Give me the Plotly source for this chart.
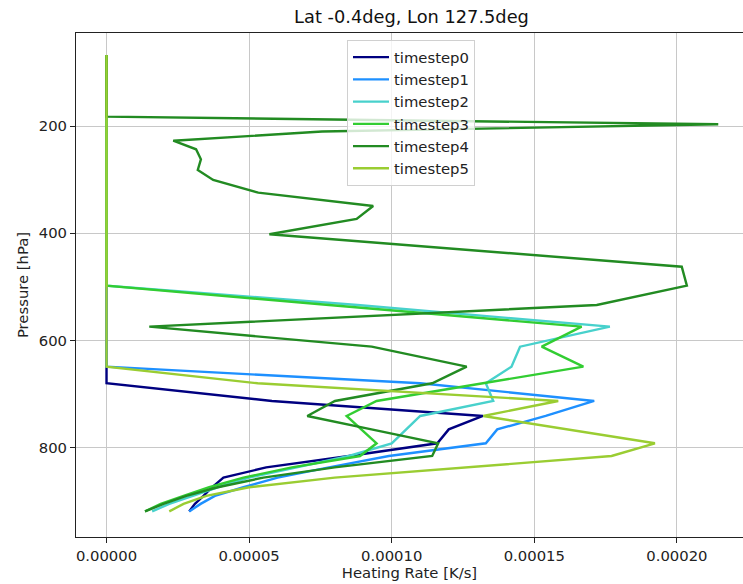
import plotly.graph_objects as go

# Pressure levels [hPa]
pressure = [67.5, 182.6, 196.8, 210.3, 227.4, 243.5, 262.1, 282.1, 300.7, 324.4,
            349.3, 373.5, 402.0, 432.0, 462.5, 497.9, 534.0, 574.4, 611.7, 649.0,
            680.0, 713.0, 741.0, 766.0, 792.0, 815.7, 837.0, 856.0, 874.0, 890.0,
            905.0, 919.0]

# Heating rate profiles, in units of 1e-5 K/s
timestep0 = [0] * 21 + [5.8, 13.2, 12.0, 11.6, 8.5, 5.6, 4.1, 3.7, 3.4, 3.1, 2.9]
timestep1 = [0] * 20 + [11.0, 17.1, 15.4, 13.7, 13.3, 9.9, 7.8, 6.0, 4.8, 3.8, 3.3, 2.9]
timestep2 = [0] * 16 + [8.8, 17.65, 14.5, 14.2, 13.3, 13.56, 11.0, 10.5, 10.0, 8.5,
                        6.6, 5.0, 3.9, 3.0, 2.2, 1.6]
timestep3 = [0] * 16 + [7.8, 16.66, 15.26, 16.72, 13.2, 9.47, 8.42, 8.94, 9.47, 8.89,
                        6.5, 4.8, 3.6, 2.7, 1.9, 1.35]
timestep4 = [0, 0, 21.45, 7.56, 2.34, 3.14, 3.31, 3.20, 3.74, 5.32, 9.35, 8.77, 5.71,
             12.9, 20.17, 20.35, 17.19, 1.50, 9.30, 12.63, 11.42, 8.01, 7.04, 9.29,
             11.63, 11.42, 8.0, 5.5, 3.9, 2.8, 2.0, 1.35]
timestep5 = [0] * 20 + [5.3, 15.84, 13.21, 16.17, 19.23, 17.71, 12.5, 8.0, 5.0, 3.5, 2.7, 2.2]

names = ["timestep0", "timestep1", "timestep2", "timestep3", "timestep4", "timestep5"]
series = [timestep0, timestep1, timestep2, timestep3, timestep4, timestep5]
colors = ["#000080", "#1e90ff", "#48d1cc", "#32cd32", "#228b22", "#9acd32"]

xticks = [0, 5e-5, 1e-4, 1.5e-4, 2e-4]
xticklabels = ["0.00000", "0.00005", "0.00010", "0.00015", "0.00020"]
yticks = [200, 400, 600, 800]

fig = go.Figure()
for name, vals, col in zip(names, series, colors):
    fig.add_trace(go.Scatter(
        x=[v * 1e-5 for v in vals], y=pressure, mode="lines", name=name,
        line=dict(color=col, width=2.4),
    ))

font = "DejaVu Sans, sans-serif"
fig.update_layout(
    width=743, height=584,
    margin=dict(l=76, r=0, t=33, b=47),
    paper_bgcolor="white", plot_bgcolor="white",
    font=dict(family=font, size=14.8, color="#222222"),
    title=dict(text="Lat -0.4deg, Lon 127.5deg", x=411.5 / 743, xanchor="center",
               y=1 - 17 / 584, yanchor="middle", yref="container",
               font=dict(size=17.8, color="#111111")),
    showlegend=True,
    legend=dict(x=(347 - 76) / 667, y=1 - (40 - 33) / 504, xanchor="left", yanchor="top",
                bgcolor="rgba(255,255,255,0.8)", bordercolor="#d0d0d0", borderwidth=1,
                itemwidth=36,
                font=dict(size=14.8, color="#222222")),
)
fig.update_xaxes(
    range=[-1.07e-5, 22.318e-5], tickvals=xticks, ticktext=xticklabels,
    showgrid=True, gridcolor="#c8c8c8", gridwidth=1, zeroline=False,
    showline=True, linecolor="#222222", linewidth=1, mirror=True,
    ticks="outside", ticklen=5, tickcolor="#222222",
    title=dict(text="Heating Rate [K/s]", font=dict(size=14.8), standoff=4),
)
fig.update_yaxes(
    range=[966.8, 26.5], tickvals=yticks,
    showgrid=True, gridcolor="#c8c8c8", gridwidth=1, zeroline=False,
    showline=True, linecolor="#222222", linewidth=1,
    ticks="outside", ticklen=5, tickcolor="#222222",
    title=dict(text="Pressure [hPa]", font=dict(size=14.8), standoff=6),
)

fig.write_html("out.html")
